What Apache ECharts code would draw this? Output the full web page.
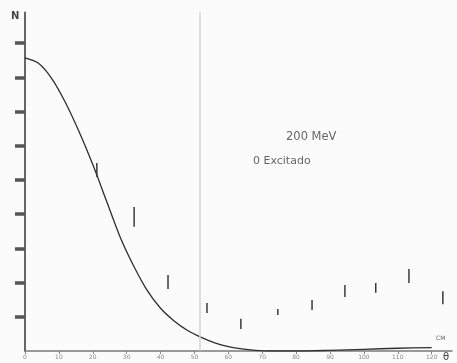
<!DOCTYPE html>
<html>
<head>
<meta charset="utf-8">
<script src="https://cdn.jsdelivr.net/npm/echarts@6/dist/echarts.min.js"></script>
<style>
  html, body { margin: 0; padding: 0; background: #fbfbfb; }
  #chart { width: 457px; height: 363px; }
</style>
</head>
<body>
<div id="chart"></div>
<script>
// Theoretical angular distribution (scattering angle in degrees, counts)
const curveAngles = [0, 4, 8, 12, 16, 20, 24, 28, 32, 36, 40, 44, 48, 52, 56, 60, 64, 68, 72, 80, 90, 100, 110, 120];
const curveCounts = [857, 841, 795, 725, 640, 545, 440, 335, 250, 178, 125, 88, 60, 40, 24, 13, 6, 2, 0, 0, 2, 5, 8, 10];

// Measured points, drawn as vertical error bars (low / high)
const barAngles = [21.2, 32.2, 42.2, 53.7, 63.7, 74.6, 84.7, 94.4, 103.5, 113.3, 123.3];
const barLow    = [509, 363, 181, 111, 64, 105, 120, 158, 170, 199, 137];
const barHigh   = [550, 421, 222, 140, 94, 123, 149, 193, 199, 240, 175];

// Axis ticks
const xTicks = [0, 10, 20, 30, 40, 50, 60, 70, 80, 90, 100, 110, 120];
const yTicks = [100, 200, 300, 400, 500, 600, 700, 800, 900];
const referenceAngle = 51.6;

const chart = echarts.init(document.getElementById('chart'));

const curveData = curveAngles.map((a, i) => [a, curveCounts[i]]);
const barData = barAngles.map((a, i) => [a, barLow[i], barHigh[i]]);

chart.setOption({
  animation: false,
  backgroundColor: '#fbfbfb',
  grid: { left: 25, right: 5, top: 12.4, bottom: 12, containLabel: false },
  xAxis: {
    type: 'value',
    min: 0, max: 126, interval: 10,
    axisLine: { show: true, lineStyle: { color: '#7a7a7a', width: 1.5 } },
    axisTick: { show: true, inside: false, length: 3, lineStyle: { color: '#888', width: 1 },
                customValues: xTicks },
    axisLabel: {
      show: true, fontSize: 6, color: '#8a8a8a', margin: 3,
      customValues: xTicks,
      fontFamily: 'DejaVu Sans'
    },
    splitLine: { show: false }
  },
  yAxis: {
    type: 'value',
    min: 0, max: 990, interval: 100,
    axisLine: { show: true, lineStyle: { color: '#666', width: 2 } },
    axisTick: { show: true, length: 10, customValues: yTicks,
                lineStyle: { color: '#555', width: 3.5 } },
    axisLabel: { show: false },
    splitLine: { show: false }
  },
  series: [
    {
      type: 'line',
      data: curveData,
      smooth: 0.3,
      symbol: 'none',
      lineStyle: { color: '#2e2e2e', width: 1.3 },
      markLine: {
        silent: true,
        symbol: 'none',
        label: { show: false },
        lineStyle: { color: '#d4d4d4', width: 1.5, type: 'solid' },
        data: [{ xAxis: referenceAngle }]
      },
      z: 3
    },
    {
      type: 'custom',
      data: barData,
      renderItem: function (params, api) {
        const lo = api.coord([api.value(0), api.value(1)]);
        const hi = api.coord([api.value(0), api.value(2)]);
        return {
          type: 'line',
          shape: { x1: lo[0], y1: lo[1], x2: hi[0], y2: hi[1] },
          style: { stroke: '#3a3a3a', lineWidth: 1.5 }
        };
      },
      z: 4
    }
  ],
  graphic: [
    { type: 'text', left: 11, top: 11,
      style: { text: 'N', fontSize: 10, fontWeight: 'bold', fill: '#444', fontFamily: 'DejaVu Sans' } },
    { type: 'text', left: 443, top: 352,
      style: { text: 'θ', fontSize: 10, fill: '#444', fontFamily: 'DejaVu Sans' } },
    { type: 'text', left: 436, top: 335,
      style: { text: 'CM', fontSize: 6, fill: '#666', fontFamily: 'DejaVu Sans' } },
    { type: 'text', left: 286, top: 131,
      style: { text: '200 MeV', fontSize: 11.5, fill: '#666', fontFamily: 'DejaVu Sans' } },
    { type: 'text', left: 253, top: 156,
      style: { text: '0 Excitado', fontSize: 11, fill: '#666', fontFamily: 'DejaVu Sans' } }
  ]
});
</script>
</body>
</html>
